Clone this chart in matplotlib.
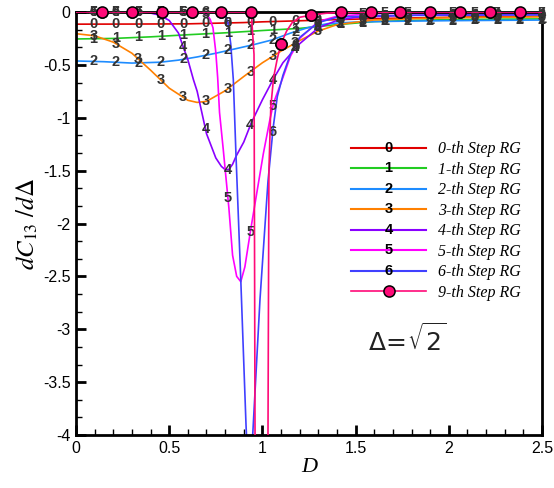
import numpy as np
import matplotlib
matplotlib.use('Agg')
import matplotlib.pyplot as plt
from matplotlib.lines import Line2D
from matplotlib.text import Text
from matplotlib.legend_handler import HandlerBase, HandlerLine2D
from matplotlib.ticker import MultipleLocator

plt.rcParams['font.family'] = ['Liberation Sans', 'DejaVu Sans']
plt.rcParams['axes.unicode_minus'] = False

# ---------------- data ----------------
d0 = [0.0, 0.3, 0.6, 0.9, 1.0, 1.2, 1.4, 1.6, 1.8, 2.0, 2.25, 2.5]
c0 = [-0.115, -0.114, -0.112, -0.10, -0.093, -0.083, -0.072, -0.063, -0.056, -0.050, -0.045, -0.040]

d1 = [0.0, 0.2, 0.4, 0.6, 0.8, 1.0, 1.2, 1.4, 1.6, 1.8, 2.0, 2.25, 2.5]
c1 = [-0.255, -0.25, -0.235, -0.215, -0.197, -0.175, -0.155, -0.12, -0.09, -0.08, -0.072, -0.068, -0.065]

d2 = [0.0, 0.15, 0.3, 0.45, 0.55, 0.65, 0.75, 0.85, 0.95, 1.05, 1.15, 1.25, 1.35, 1.5, 1.7, 2.0, 2.5]
c2 = [-0.463, -0.47, -0.483, -0.475, -0.455, -0.425, -0.39, -0.35, -0.31, -0.265, -0.20, -0.145,
      -0.11, -0.095, -0.088, -0.082, -0.076]

d3 = [0.0, 0.1, 0.2, 0.3, 0.4, 0.5, 0.6, 0.65, 0.7, 0.8, 0.9, 1.0, 1.1, 1.2, 1.3, 1.4, 1.6, 1.9, 2.2, 2.5]
c3 = [-0.205, -0.225, -0.285, -0.39, -0.55, -0.72, -0.835, -0.855, -0.845, -0.745, -0.61, -0.48,
      -0.37, -0.27, -0.18, -0.12, -0.075, -0.058, -0.05, -0.046]

d4 = [0.0, 0.35, 0.4, 0.45, 0.5, 0.55, 0.575, 0.6, 0.63, 0.65, 0.7, 0.75, 0.78, 0.8, 0.82, 0.84,
      0.86, 0.9, 0.94, 1.0, 1.06, 1.11, 1.2, 1.3, 1.4, 1.5, 1.8, 2.5]
c4 = [0.0, 0.0, -0.01, -0.03, -0.08, -0.2, -0.33, -0.45, -0.64, -0.75, -1.15, -1.38, -1.46, -1.49,
      -1.49, -1.44, -1.36, -1.23, -1.05, -0.83, -0.63, -0.48, -0.3, -0.15, -0.08, -0.05, -0.03, -0.02]

d5 = [0.0, 0.66, 0.7, 0.72, 0.735, 0.75, 0.76, 0.77, 0.79, 0.82, 0.84, 0.862, 0.884, 0.906, 0.937,
      0.97, 1.005, 1.04, 1.06, 1.11, 1.15, 1.2, 1.3, 1.4, 1.6, 2.0, 2.5]
c5 = [0.0, 0.0, -0.02, -0.07, -0.15, -0.38, -0.62, -0.95, -1.3, -1.85, -2.3, -2.5, -2.55, -2.41,
      -2.06, -1.71, -1.34, -1.02, -0.86, -0.62, -0.42, -0.25, -0.09, -0.04, -0.015, -0.008, -0.005]

d6 = [0.0, 0.78, 0.8, 0.815, 0.83, 0.844, 0.858, 0.884, 0.912, 0.93, 0.948, 0.987, 1.005, 1.03,
      1.058, 1.08, 1.11, 1.15, 1.2, 1.3, 1.4, 1.6, 2.0, 2.5]
c6 = [0.0, 0.0, -0.02, -0.1, -0.3, -0.64, -1.34, -2.53, -3.9, -4.6, -4.0, -2.72, -2.25, -1.6,
      -1.09, -0.8, -0.6, -0.4, -0.24, -0.1, -0.05, -0.035, -0.03, -0.028]

d9 = [0.0, 0.14, 0.30, 0.46, 0.62, 0.78, 0.94, 0.955, 0.962, 1.028, 1.035, 1.045, 1.06, 1.08,
      1.10, 1.13, 1.16, 1.20, 1.26, 1.34, 1.42, 1.58, 1.74, 1.90, 2.06, 2.22, 2.38, 2.5]
c9 = [0.0, 0.0, 0.0, 0.0, 0.0, 0.0, 0.0, -0.4, -5.0, -5.0, -1.5, -0.9, -0.62, -0.44,
      -0.30, -0.18, -0.10, -0.05, -0.03, -0.012, -0.004, -0.002, 0.0, 0.0, 0.0, 0.0, 0.0, 0.0]
m9 = [0.14, 0.30, 0.46, 0.62, 0.78, 0.94, 1.10, 1.26, 1.42, 1.58, 1.74, 1.90, 2.06, 2.22, 2.38]

symbols = ['0', '1', '2', '3', '4', '5', '6']
names = ['0-th Step RG', '1-th Step RG', '2-th Step RG', '3-th Step RG', '4-th Step RG',
         '5-th Step RG', '6-th Step RG', '9-th Step RG']
colors = ['#e00000', '#22cc22', '#1e8cff', '#ff8000', '#8a00ff', '#ff00ff', '#4040ff', '#ff0a78']
series = [(d0, c0), (d1, c1), (d2, c2), (d3, c3), (d4, c4), (d5, c5), (d6, c6)]

# ---------------- figure ----------------
fig = plt.figure(figsize=(5.54, 4.88), dpi=100)
ax = fig.add_axes([76 / 554, 1 - 435 / 488, 466 / 554, 423 / 488])

D_lab = np.linspace(0.093, 2.5, 21)
handles = []
for (dx, cy), sym, col, nm in zip(series, symbols, colors, names):
    ln, = ax.plot(dx, cy, color=col, lw=1.2, label=nm, zorder=2)
    handles.append(ln)
    ly = np.interp(D_lab, dx, cy)
    for xx, yy in zip(D_lab, ly):
        if yy >= -4.02:
            ax.text(xx, yy, sym, ha='center', va='center', fontsize=10.5, color='#333333',
                    fontweight='bold', clip_on=False, zorder=3)

mk = [i for i, d in enumerate(d9) if any(abs(d - m) < 1e-9 for m in m9)]
ln9, = ax.plot(d9, c9, color=colors[7], lw=1.2, marker='o', markevery=mk, markersize=8,
               markerfacecolor='#ff0a78', markeredgecolor='black', markeredgewidth=1.1,
               label=names[7], zorder=4)
ax.plot(np.array(d9)[mk], np.array(c9)[mk], linestyle='none', marker='o', markersize=8,
        markerfacecolor='#ff0a78', markeredgecolor='black', markeredgewidth=1.1,
        clip_on=False, zorder=5)
handles.append(ln9)

ax.set_xlim(0, 2.5)
ax.set_ylim(-4, 0)
ax.xaxis.set_major_locator(MultipleLocator(0.5))
ax.xaxis.set_minor_locator(MultipleLocator(0.1))
ax.yaxis.set_major_locator(MultipleLocator(0.5))
ax.yaxis.set_minor_locator(MultipleLocator(0.5 / 3))
ax.xaxis.set_major_formatter(plt.FuncFormatter(lambda v, p: f'{v:g}'))
ax.yaxis.set_major_formatter(plt.FuncFormatter(lambda v, p: f'{v:g}'))
ax.tick_params(which='major', direction='in', length=7, width=2, labelsize=11.5, pad=4)
ax.tick_params(which='minor', direction='in', length=4, width=1)
for s in ax.spines.values():
    s.set_linewidth(2)

ax.set_xlabel('D', fontsize=16, family='Liberation Serif', style='italic', labelpad=2)
ax.set_ylabel(r'$dC_{\mathit{13}}\ /d\Delta$', fontsize=18, math_fontfamily='stix', labelpad=2)


class NumHandler(HandlerBase):
    def __init__(self, sym, **kw):
        super().__init__(**kw)
        self.sym = sym

    def create_artists(self, legend, orig_handle, xdescent, ydescent, width, height, fontsize, trans):
        y = height / 2 - ydescent
        line = Line2D([-xdescent, width - xdescent], [y, y], color=orig_handle.get_color(), lw=1.5)
        line.set_transform(trans)
        t = Text(width / 2 - xdescent, y, self.sym, ha='center', va='center', fontsize=10.5,
                 color='black', fontweight='bold')
        t.set_transform(trans)
        return [line, t]


hmap = {h: NumHandler(s) for h, s in zip(handles[:7], symbols)}
hmap[handles[7]] = HandlerLine2D(numpoints=1)
leg = ax.legend(handles=handles, handler_map=hmap, loc='center', bbox_to_anchor=(0.7725, 0.506),
                frameon=False, handlelength=4.7, handletextpad=0.75, labelspacing=0.28,
                prop={'family': 'Liberation Serif', 'style': 'italic', 'size': 11.5}, borderpad=0)

ax.text(0.627, 0.225, r'$\Delta\!=\!\sqrt{2}$', transform=ax.transAxes, fontsize=18,
        math_fontfamily='dejavusans', color='#222222', ha='left', va='center')

fig.savefig('out.png', dpi=100)
